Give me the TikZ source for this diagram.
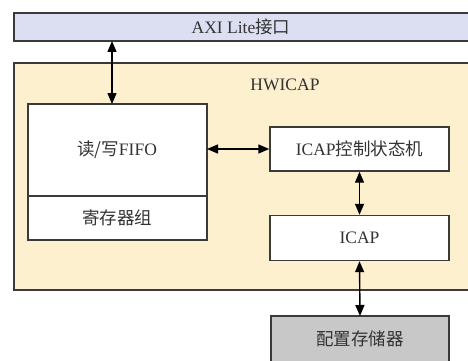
\documentclass[tikz,border=0pt]{standalone}
\usepackage{fontspec}
\setmainfont{Liberation Serif}
\newfontfamily\cjk{Noto Sans CJK SC}
\usetikzlibrary{arrows.meta}
\definecolor{axifill}{HTML}{DCDFF2}
\definecolor{hwfill}{HTML}{FDF0CE}
\definecolor{memfill}{HTML}{C8C8C8}
\definecolor{edge}{HTML}{3A3A3A}
\tikzset{
  blk/.style={draw=edge, line width=1.4pt, fill=white, inner sep=0pt},
  link/.style={draw=black, line width=1.4pt, {Triangle[length=11pt,width=9pt]}-{Triangle[length=11pt,width=9pt]}},
  lbl/.style={font=\fontsize{17.5}{20}\selectfont, text=black!80}
}
\begin{document}
\begin{tikzpicture}[x=1pt,y=-1pt]
\useasboundingbox (0,0) rectangle (468,361);
\begin{scope}
\clip (0,0) rectangle (468,361);
% AXI bar
\draw[draw=edge, line width=1.4pt, fill=axifill] (14,13) rectangle (480,41);
\node[lbl] (axi) at (241,27) {AXI Lite{\cjk 接口}};
\coordinate (axiB) at (112,41);
% HWICAP container
\draw[draw=edge, line width=1.4pt, fill=hwfill] (14,63) rectangle (480,290);
\node[lbl] (hw) at (285,85) {HWICAP};
% FIFO block
\draw[blk] (28,104) rectangle (207,240);
\draw[draw=edge, line width=1.4pt] (28,196) -- (207,196);
\coordinate (fifoT) at (112,104);
\node[lbl] (fifo) at (117,150) {{\cjk 读/写}FIFO};
\node[lbl] (reg) at (117,218) {\cjk 寄存器组};
\coordinate (fifoR) at (207,149);
% ICAP control
\node[blk, minimum width=179pt, minimum height=44pt, lbl] (ctrl) at (359.5,149) {ICAP{\cjk 控制状态机}};
% ICAP
\node[blk, minimum width=179pt, minimum height=45pt, lbl] (icap) at (359.5,238) {ICAP};
% memory
\draw[draw=edge, line width=1.4pt, fill=memfill] (271,316) rectangle (449,375);
\node[lbl] (mem) at (360,339) {\cjk 配置存储器};
\coordinate (memT) at (360,316);
\end{scope}
% connectors
\draw[link] (axiB) -- (fifoT);
\draw[link] (fifoR) -- (ctrl.west);
\draw[link] (ctrl.south) -- (icap.north);
\draw[link] (icap.south) -- (memT);
\end{tikzpicture}
\end{document}
